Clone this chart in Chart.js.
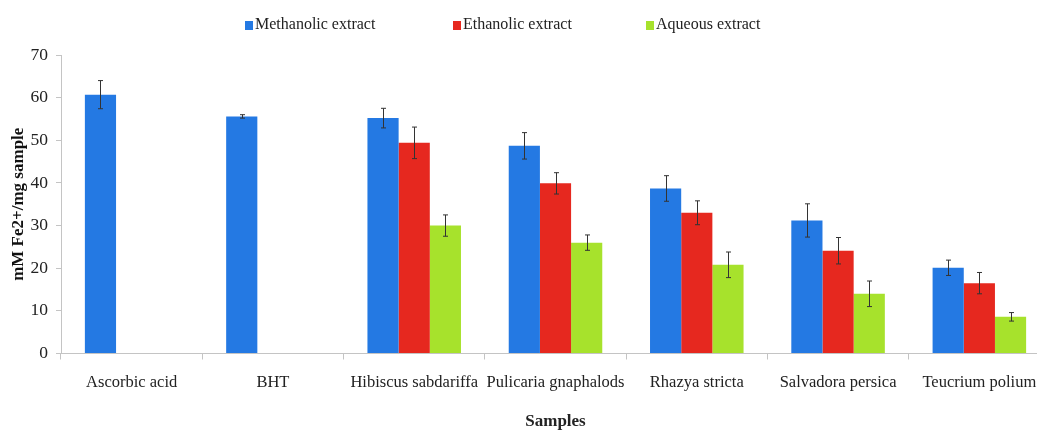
<!DOCTYPE html>
<html>
<head>
<meta charset="utf-8">
<script src="https://cdn.jsdelivr.net/npm/chart.js@4/dist/chart.umd.min.js"></script>
<style>
  html, body { margin: 0; padding: 0; background: #fff; overflow: hidden; }
  #wrap { width: 1060px; height: 432px; }
</style>
</head>
<body>
<div id="wrap"><canvas id="myChart" width="1060" height="432"></canvas></div>
<script>
var samples = ["Ascorbic acid", "BHT", "Hibiscus sabdariffa", "Pulicaria gnaphalods",
  "Rhazya stricta", "Salvadora persica", "Teucrium polium"];
var seriesNames = ["Methanolic extract", "Ethanolic extract", "Aqueous extract"];
var seriesColors = ["#2479e3", "#e6281f", "#a7e22c"];

var methanolic = [60.7, 55.6, 55.2, 48.7, 38.7, 31.2, 20.1];
var ethanolic = [null, null, 49.4, 39.9, 33.0, 24.1, 16.5];
var aqueous = [null, null, 30.0, 26.0, 20.8, 14.0, 8.6];

var methanolicErr = [3.3, 0.4, 2.3, 3.1, 3.0, 3.9, 1.8];
var ethanolicErr = [0, 0, 3.7, 2.5, 2.8, 3.1, 2.5];
var aqueousErr = [0, 0, 2.5, 1.8, 3.0, 3.0, 1.0];

var yTicks = [0, 10, 20, 30, 40, 50, 60, 70];

var allValues = [methanolic, ethanolic, aqueous];
var allErrors = [methanolicErr, ethanolicErr, aqueousErr];

var serif = "'Liberation Serif', 'Times New Roman', serif";

var datasets = [];
for (var i = 0; i < seriesNames.length; i++) {
  datasets.push({
    label: seriesNames[i],
    data: allValues[i],
    errors: allErrors[i],
    backgroundColor: seriesColors[i],
    borderWidth: 0,
    categoryPercentage: 0.662,
    barPercentage: 1.0
  });
}

// error bars, drawn from each bar element and the y scale
var errorBars = {
  id: "errorBars",
  afterDatasetsDraw: function (chart) {
    var ctx = chart.ctx;
    var y = chart.scales.y;
    ctx.save();
    ctx.strokeStyle = "#333";
    ctx.lineWidth = 1;
    chart.data.datasets.forEach(function (ds, di) {
      var meta = chart.getDatasetMeta(di);
      meta.data.forEach(function (bar, j) {
        var v = ds.data[j];
        var e = ds.errors[j];
        if (v == null || !e) return;
        var x = Math.round(bar.x) + 0.5;
        var top = y.getPixelForValue(v + e);
        var bot = y.getPixelForValue(v - e);
        ctx.beginPath();
        ctx.moveTo(x, top); ctx.lineTo(x, bot);
        ctx.moveTo(x - 2.5, top); ctx.lineTo(x + 2.5, top);
        ctx.moveTo(x - 2.5, bot); ctx.lineTo(x + 2.5, bot);
        ctx.stroke();
      });
    });
    ctx.restore();
  }
};

// legend: small squares with text, in a row above the plot
var legendX = [245, 453, 646];
var topLegend = {
  id: "topLegend",
  afterDraw: function (chart) {
    var ctx = chart.ctx;
    ctx.save();
    ctx.font = "16px " + serif;
    ctx.textBaseline = "middle";
    chart.data.datasets.forEach(function (d, i) {
      ctx.fillStyle = d.backgroundColor;
      ctx.fillRect(legendX[i], 21, 8, 9);
      ctx.fillStyle = "#222";
      ctx.fillText(d.label, legendX[i] + 10, 25);
    });
    ctx.restore();
  }
};

var ctx = document.getElementById("myChart").getContext("2d");
var myChart = new Chart(ctx, {
  type: "bar",
  data: { labels: samples, datasets: datasets },
  plugins: [errorBars, topLegend],
  options: {
    responsive: false,
    animation: false,
    layout: { padding: { top: 55, right: 10, left: 0, bottom: 0 } },
    plugins: {
      legend: { display: false },
      tooltip: { enabled: false }
    },
    scales: {
      x: {
        grid: { display: true, drawOnChartArea: false, drawTicks: true, tickLength: 6, color: "#c4c4c4", offset: true },
        border: { color: "#c4c4c4" },
        ticks: { color: "#222", font: { family: serif, size: 16.5 }, padding: 13, maxRotation: 0, autoSkip: false },
        title: { display: true, text: "Samples", color: "#222", font: { family: serif, size: 17, weight: "bold" }, padding: { top: 0, bottom: 0 } },
        afterFit: function (s) { s.height = 78.5; }
      },
      y: {
        min: 0,
        max: 70,
        afterBuildTicks: function (s) { s.ticks = yTicks.map(function (v) { return { value: v }; }); },
        grid: { display: true, drawOnChartArea: false, drawTicks: true, tickLength: 5, color: "#c4c4c4" },
        border: { color: "#c4c4c4" },
        ticks: { color: "#222", font: { family: serif, size: 17.5 }, padding: 8 },
        title: { display: true, text: "mM Fe2+/mg sample", color: "#111", font: { family: serif, size: 17, weight: "bold" }, padding: { top: 8, bottom: 0 } },
        afterFit: function (s) { s.width = 61; }
      }
    }
  }
});
</script>
</body>
</html>
